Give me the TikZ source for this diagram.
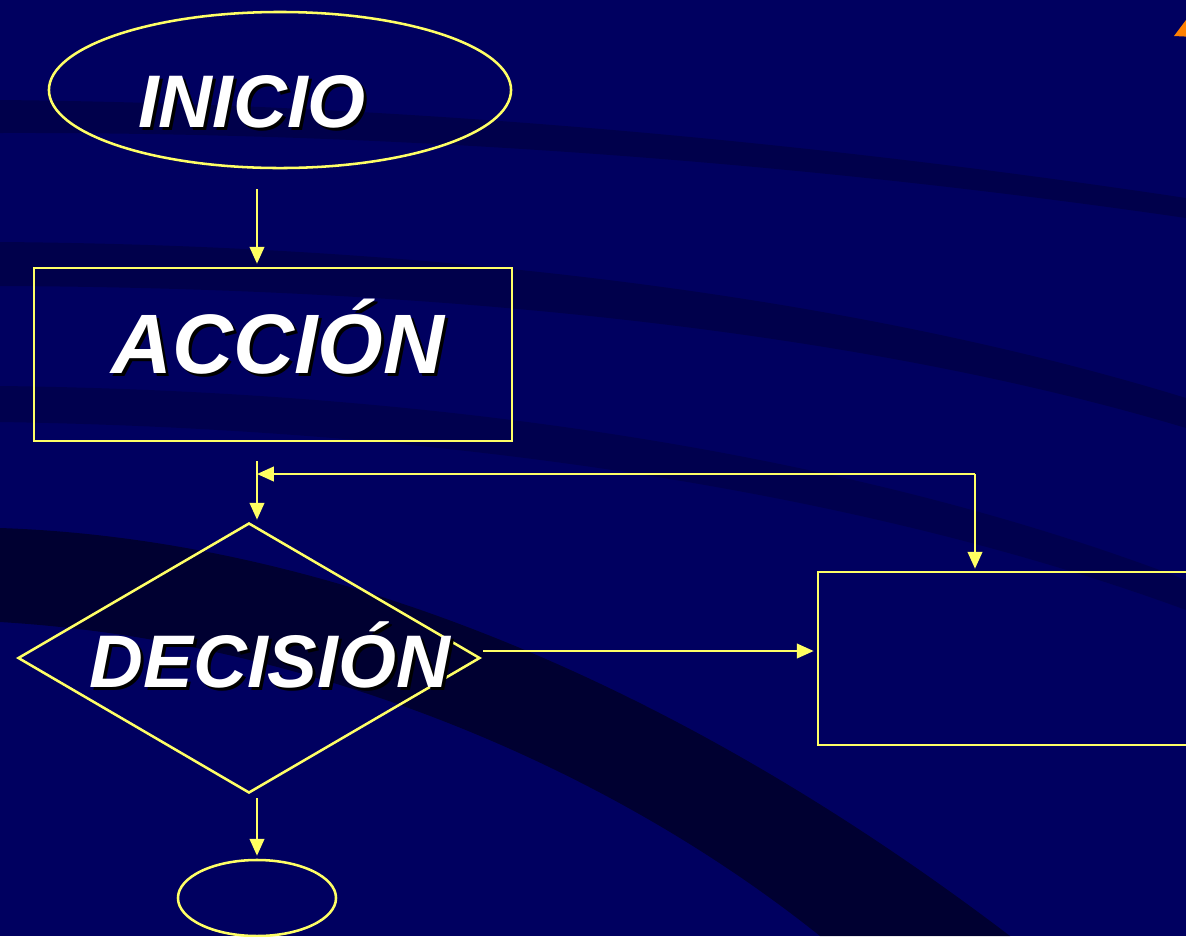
\documentclass[tikz,border=0pt]{standalone}
\usepackage{fontspec}
\setmainfont{Liberation Sans}
\usepackage{tikz}
\usetikzlibrary{arrows.meta}
\usetikzlibrary{shapes.geometric}

\definecolor{bgnavy}{RGB}{0,0,96}
\definecolor{bgdark}{RGB}{0,0,62}
\definecolor{bgdeep}{RGB}{0,0,24}
\definecolor{lineyellow}{RGB}{255,255,102}
\definecolor{tipyellow}{RGB}{255,255,90}

\newcommand{\shtext}[1]{\makebox[0pt][l]{\hspace{0.075cm}\raisebox{-0.075cm}{\color{black}#1}}#1}

\tikzset{
    outline/.style={draw=lineyellow, line width=1.8pt, inner sep=0pt},
    flow/.style={draw=lineyellow, line width=1.8pt,
        -{Triangle[length=0.42cm, width=0.36cm, fill=tipyellow]}},
    label text/.style={text=white, font=\bfseries\itshape, anchor=base}
}

\begin{document}
\begin{tikzpicture}[x=0.025cm, y=-0.025cm]
        \clip (0,0) rectangle (1186,936);
        \fill[bgnavy] (0,0) rectangle (1186,936);

        % background swooshes
        \fill[bgdark, opacity=.6] (0,100) .. controls (400,104) and (800,140) .. (1186,198)
            -- (1186,218) .. controls (800,162) and (400,132) .. (0,133) -- cycle;
        \fill[bgdark, opacity=.6] (0,242) .. controls (500,246) and (900,310) .. (1186,398)
            -- (1186,428) .. controls (900,342) and (500,288) .. (0,286) -- cycle;
        \fill[bgdark, opacity=.5] (0,386) .. controls (500,392) and (900,470) .. (1186,580)
            -- (1186,610) .. controls (900,505) and (500,430) .. (0,422) -- cycle;
        \fill[bgdeep, opacity=.65] (0,528) .. controls (350,540) and (700,700) .. (1010,936)
            -- (820,936) .. controls (600,760) and (300,640) .. (0,622) -- cycle;

        % corner mark
        \fill[orange] (1174,36) -- (1195,8) -- (1195,37) -- cycle;

        % shapes
        \node[outline, ellipse, minimum width=11.55cm, minimum height=3.9cm] (inicio) at (280,90) {};
        \node[outline, rectangle, minimum width=11.95cm, minimum height=4.325cm] (accion) at (273,354.5) {};
        \node[outline, diamond, minimum width=11.55cm, minimum height=6.75cm] (decision) at (249,658) {};
        \node[outline, rectangle, minimum width=9.6cm, minimum height=4.325cm] (blank) at (1010,658.5) {};
        \node[outline, ellipse, minimum width=3.95cm, minimum height=1.9cm] (fin) at (257,898) {};

        % texts
        \node[label text, font=\fontsize{53}{60}\selectfont\bfseries\itshape] (inicio-txt) at (252,127) {\shtext{INICIO}};
        \node[label text, font=\fontsize{60}{68}\selectfont\bfseries\itshape] (accion-txt) at (278,373) {\shtext{ACCIÓN}};
        \node[label text, font=\fontsize{53}{60}\selectfont\bfseries\itshape] (decision-txt) at (270,687) {\shtext{DECISIÓN}};

        % connectors
        \coordinate (col) at (257,0);
        \coordinate (row) at (0,651);
        \coordinate (corner) at (975,474);

        \draw[flow, shorten <=0.5cm, shorten >=0.075cm] (inicio.south -| col) -- (accion.north -| col);
        \draw[flow, shorten <=0.475cm, shorten >=0.05cm] (accion.south -| col) -- (decision.north -| col);
        \draw[flow] (corner) -- (corner -| col);
        \draw[flow, shorten >=0.05cm] (corner) -- (corner |- blank.north);
        \draw[flow, shorten <=0.05cm, shorten >=0.075cm] (decision.east |- row) -- (blank.west |- row);
        \draw[flow, shorten <=0.1cm, shorten >=0.075cm] (decision.south -| col) -- (fin.north);
    \end{tikzpicture}
\end{document}
